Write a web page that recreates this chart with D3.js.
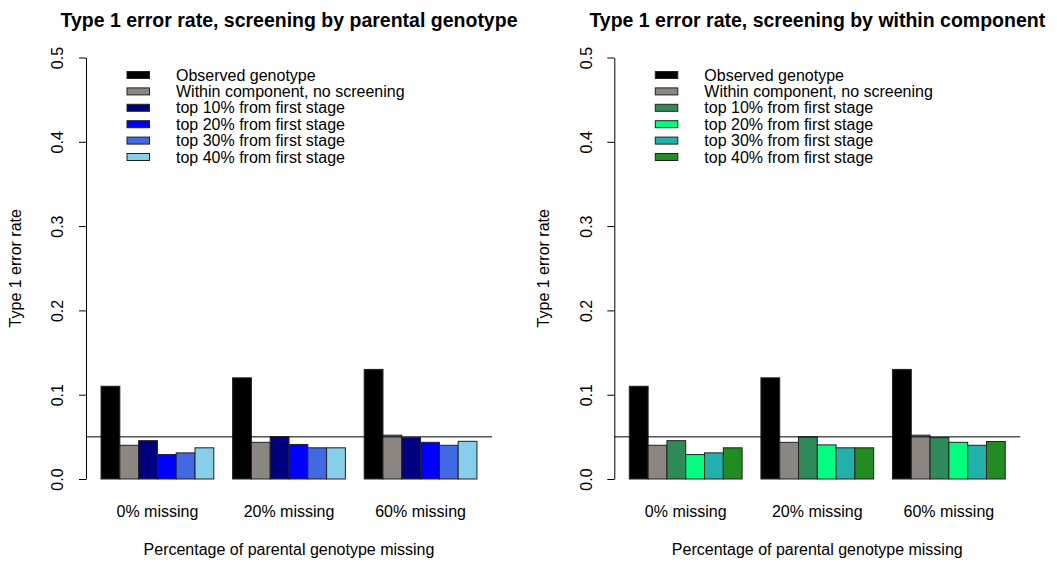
<!DOCTYPE html>
<html>
<head>
<meta charset="utf-8">
<script src="https://cdn.jsdelivr.net/npm/d3@7"></script>
<style>
  html, body { margin: 0; padding: 0; background: #fff; }
  svg { display: block; font-family: "Liberation Sans", Arial, Helvetica, sans-serif; }
</style>
</head>
<body>
<svg id="chart" width="1057" height="562"></svg>
<script>
// Missing-data scenarios along the x axis
const groups = ["0% missing", "20% missing", "60% missing"];

// Series names shared by both panels (legend text)
const leftSeries = ["Observed genotype", "Within component, no screening",
  "top 10% from first stage", "top 20% from first stage",
  "top 30% from first stage", "top 40% from first stage"];
const rightSeries = leftSeries.slice();

// Type 1 error rate per series, one value per missing-data scenario
const observed        = [0.110, 0.120, 0.130];
const withinNoScreen  = [0.040, 0.0435, 0.052];
const parTop10        = [0.0455, 0.050, 0.049];
const parTop20        = [0.029, 0.041, 0.0435];
const parTop30        = [0.031, 0.037, 0.040];
const parTop40        = [0.037, 0.037, 0.0447];
const winTop10        = [0.0455, 0.050, 0.049];
const winTop20        = [0.029, 0.0405, 0.0435];
const winTop30        = [0.031, 0.037, 0.040];
const winTop40        = [0.037, 0.037, 0.0445];

// Nominal significance level drawn as a reference line
const alphaLevel = 0.05;
const yTicks = [0, 0.1, 0.2, 0.3, 0.4, 0.5];

const leftColors  = ["#000000", "#8B8682", "#000080", "#0000FF", "#4169E1", "#87CEEB"];
const rightColors = ["#000000", "#8B8682", "#2E8B57", "#00FF7F", "#20B2AA", "#228B22"];

const panels = [
  {
    title: "Type 1 error rate, screening by parental genotype",
    series: leftSeries,
    values: [observed, withinNoScreen, parTop10, parTop20, parTop30, parTop40],
    colors: leftColors,
    left: 86
  },
  {
    title: "Type 1 error rate, screening by within component",
    series: rightSeries,
    values: [observed, withinNoScreen, winTop10, winTop20, winTop30, winTop40],
    colors: rightColors,
    left: 614.3
  }
];

const svg = d3.select("#chart");
const plotW = 406;
const plotTop = 40.6, plotBottom = 495.9;

const y = d3.scaleLinear().domain([0, 0.5]).range([479, 57.5]);

panels.forEach(p => {
  const g = svg.append("g");
  const x0 = p.left, x1 = p.left + plotW;
  // bars occupy 20 units inside a 21.6-unit wide region (4% padding each side)
  const unit = plotW / 21.6;

  const xGroup = d3.scaleBand()
    .domain(groups)
    .range([x0 + 0.8 * unit, x1 - 0.8 * unit])
    .paddingInner(1 / 7)
    .paddingOuter(0);

  const xSeries = d3.scaleBand()
    .domain(d3.range(p.series.length))
    .range([0, xGroup.bandwidth()])
    .padding(0);

  // bars
  groups.forEach((grp, gi) => {
    const gg = g.append("g").attr("transform", `translate(${xGroup(grp)},0)`);
    p.values.forEach((vals, si) => {
      gg.append("rect")
        .attr("x", xSeries(si))
        .attr("y", y(vals[gi]))
        .attr("width", xSeries.bandwidth())
        .attr("height", y(0) - y(vals[gi]))
        .attr("fill", p.colors[si])
        .attr("stroke", "#222")
        .attr("stroke-width", 1);
    });
  });

  // reference line at the nominal level
  g.append("line")
    .attr("x1", x0).attr("x2", x1)
    .attr("y1", y(alphaLevel)).attr("y2", y(alphaLevel))
    .attr("stroke", "#000").attr("stroke-width", 1);

  // y axis
  const ax = g.append("g")
    .attr("transform", `translate(${x0},0)`)
    .call(d3.axisLeft(y).tickValues(yTicks).tickSize(7).tickSizeOuter(0)
      .tickFormat(d3.format(".1f")));
  ax.select(".domain").attr("stroke", "#000");
  ax.selectAll(".tick line").attr("stroke", "#000");
  ax.selectAll(".tick text")
    .attr("transform", "rotate(-90)")
    .attr("x", 0)
    .attr("y", -22.7)
    .attr("dy", 0)
    .attr("text-anchor", "middle")
    .attr("fill", "#000")
    .style("font-size", "16px")
    .style("font-family", "\"Liberation Sans\", Arial, sans-serif");

  // y axis title
  g.append("text")
    .attr("transform", `translate(${x0 - 65.5},${(plotTop + plotBottom) / 2}) rotate(-90)`)
    .attr("text-anchor", "middle")
    .style("font-size", "16px")
    .text("Type 1 error rate");

  // group labels
  groups.forEach(grp => {
    g.append("text")
      .attr("x", xGroup(grp) + xGroup.bandwidth() / 2)
      .attr("y", 517)
      .attr("text-anchor", "middle")
      .style("font-size", "16px")
      .text(grp);
  });

  // x axis title
  g.append("text")
    .attr("x", (x0 + x1) / 2)
    .attr("y", 554.5)
    .attr("text-anchor", "middle")
    .style("font-size", "16px")
    .text("Percentage of parental genotype missing");

  // panel title
  g.append("text")
    .attr("x", (x0 + x1) / 2)
    .attr("y", 26.5)
    .attr("text-anchor", "middle")
    .style("font-size", "19.5px")
    .style("font-weight", "bold")
    .text(p.title);

  // legend
  const lg = g.append("g");
  p.series.forEach((name, si) => {
    const cy = 75 + si * 16.4;
    lg.append("rect")
      .attr("x", x0 + 41).attr("y", cy - 3.5)
      .attr("width", 22.5).attr("height", 7)
      .attr("fill", p.colors[si])
      .attr("stroke", "#222").attr("stroke-width", 1);
    lg.append("text")
      .attr("x", x0 + 90).attr("y", cy + 5.6)
      .style("font-size", "16px")
      .text(name);
  });
});
</script>
</body>
</html>
